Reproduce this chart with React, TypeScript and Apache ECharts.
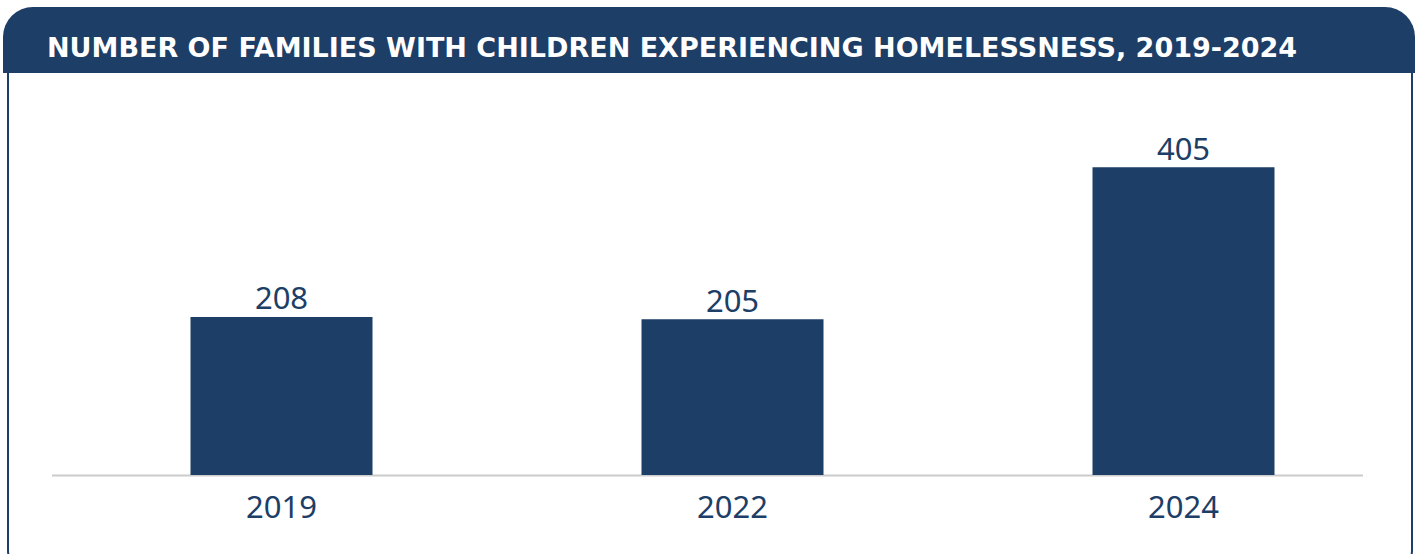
import React, { useEffect, useRef } from "react";
import * as echarts from "echarts";

const TITLE = "NUMBER OF FAMILIES WITH CHILDREN EXPERIENCING HOMELESSNESS, 2019-2024";
const years = ["2019", "2022", "2024"];
const families = [208, 205, 405];

const NAVY = "#1d3e66";

export default function App() {
  const ref = useRef<HTMLDivElement>(null);
  useEffect(() => {
    document.body.style.margin = "0";
    const chart = echarts.init(ref.current!, null, { renderer: "svg" });
    chart.setOption({
      animation: false,
      backgroundColor: "#ffffff",
      grid: { left: 56, right: 10, top: 133, bottom: 79 },
      xAxis: {
        type: "category",
        data: years,
        axisLine: { show: false },
        axisTick: { show: false },
        axisLabel: {
          color: NAVY,
          fontSize: 31,
          fontFamily: "Noto Sans",
          margin: 15,
        },
      },
      yAxis: {
        type: "value",
        min: 0,
        max: 450,
        show: false,
        splitLine: { show: false },
      },
      series: [
        {
          type: "bar",
          data: families,
          barWidth: 182,
          itemStyle: { color: NAVY },
          label: {
            show: true,
            position: "top",
            distance: 4,
            color: NAVY,
            fontSize: 31,
            fontFamily: "Noto Sans",
          },
          z: 3,
        },
      ],
      graphic: [
        {
          type: "rect",
          z: 0,
          shape: { x: 8, y: 30, width: 1404, height: 544, r: 24 },
          style: { fill: "#ffffff", stroke: NAVY, lineWidth: 2 },
        },
        {
          type: "rect",
          z: 1,
          shape: { x: 3, y: 7, width: 1412, height: 66, r: [30, 30, 0, 0] },
          style: { fill: NAVY },
        },
        {
          type: "text",
          z: 2,
          x: 47,
          y: 47,
          style: {
            text: TITLE,
            fill: "#ffffff",
            font: "bold 27px 'DejaVu Sans'",
            textVerticalAlign: "middle",
          },
        },
        {
          type: "line",
          z: 1,
          shape: { x1: 52, y1: 475.5, x2: 1363, y2: 475.5 },
          style: { stroke: "#cccccc", lineWidth: 2 },
        },
      ],
    });
    return () => chart.dispose();
  }, []);
  return <div ref={ref} style={{ width: 1419, height: 554 }} />;
}
